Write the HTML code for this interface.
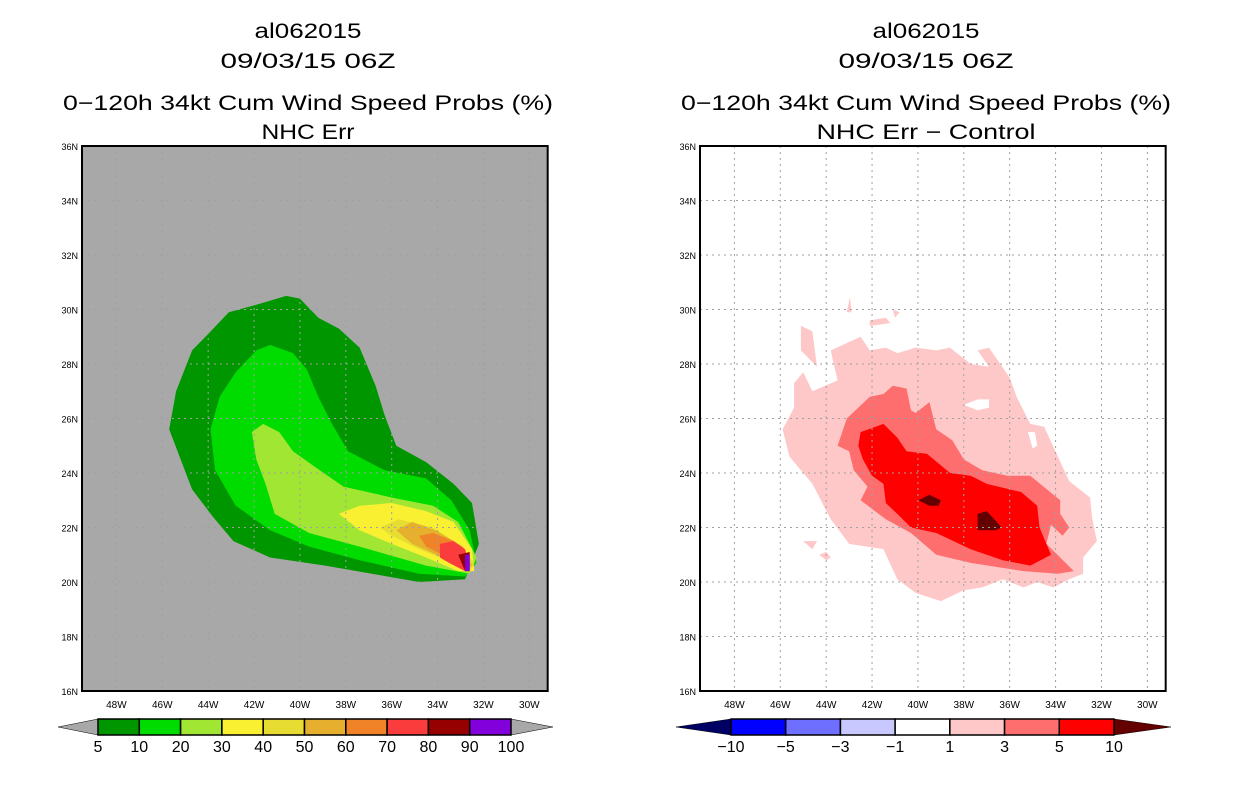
<!DOCTYPE html>
<html><head><meta charset="utf-8">
<style>
body{margin:0;background:#fff;}
svg{display:block;}
text{font-family:"Liberation Sans",sans-serif;}
</style></head>
<body>
<svg id="chart" width="1236" height="800" viewBox="0 0 1236 800"></svg>
<script>
// ---- data ----
const latTicks = [16,18,20,22,24,26,28,30,32,34,36];
const lonTicks = [48,46,44,42,40,38,36,34,32,30];
const leftLevels = ['5','10','20','30','40','50','60','70','80','90','100'];
const leftColors = ['#009600','#00dc00','#a0e632','#faf032','#e6dc32','#e6af2d','#f08228','#fa3c3c','#960000','#8200dc'];
const rightLevels = ['-10','-5','-3','-1','1','3','5','10'];
const rightColors = ['#000064','#0000ff','#6e6eff','#c8c8ff','#ffffff','#ffc8c8','#ff6e6e','#ff0000','#640000'];
// contours as [lonW, latN]
const left5 = [[40.6,30.5],[41.8,30.2],[43.1,29.9],[44.0,29.1],[44.7,28.5],[45.4,27.0],[45.7,25.6],[44.7,23.4],[43.8,22.4],[42.9,21.5],[41.3,20.9],[38.9,20.6],[34.8,20.0],[32.8,20.1],[32.2,21.4],[32.5,22.9],[33.3,23.6],[34.5,24.4],[35.8,25.0],[36.3,26.1],[36.7,27.2],[37.4,28.6],[38.3,29.3],[39.2,29.7],[40.0,30.4]];
const left10 = [[41.3,28.7],[40.3,28.4],[39.7,27.8],[39.2,26.8],[38.6,25.8],[37.9,24.8],[36.3,24.1],[34.5,23.8],[33.4,23.0],[32.6,21.9],[32.3,20.7],[32.8,20.2],[34.8,20.3],[37.4,20.8],[39.6,21.3],[41.3,21.9],[42.8,22.8],[43.7,24.1],[43.9,25.6],[43.5,26.8],[42.8,27.7],[41.9,28.5]];
const left20 = [[41.6,25.8],[40.9,25.5],[40.3,24.8],[39.3,24.2],[38.1,23.5],[36.0,23.1],[34.2,22.8],[33.1,22.2],[32.3,20.9],[32.6,20.3],[34.5,20.6],[37.4,21.3],[39.6,21.8],[41.1,22.5],[41.5,23.6],[41.9,24.5],[42.1,25.5]];
const left30 = [[38.3,22.5],[37.4,22.8],[36.0,22.9],[34.5,22.6],[33.3,22.2],[32.5,21.2],[32.4,20.4],[33.1,20.4],[34.5,20.9],[36.0,21.4],[37.4,21.9]];
const left40 = [[36.5,22.0],[35.7,22.3],[34.2,22.0],[33.1,21.4],[32.4,20.7],[32.6,20.4],[33.3,20.7],[34.8,21.2],[36.0,21.7]];
const left50 = [[35.8,21.9],[35.1,22.2],[34.1,21.9],[32.9,21.3],[32.5,20.6],[32.8,20.4],[33.8,20.9],[35.1,21.4]];
const left60 = [[34.8,21.7],[34.2,21.8],[33.3,21.5],[32.8,21.1],[32.6,20.5],[33.3,20.8],[34.5,21.3]];
const left70 = [[33.9,21.4],[33.3,21.5],[32.8,21.2],[32.6,20.6],[32.8,20.4],[33.5,20.7],[33.9,20.9]];
const left80 = [[33.1,21.0],[32.6,21.1],[32.6,20.4],[32.8,20.4],[33.0,20.8]];
const left90 = [[32.8,21.0],[32.6,21.0],[32.6,20.4],[32.8,20.4]];
const right1 = [[43.8,28.5],[42.5,29.0],[42.1,28.5],[41.4,28.6],[40.9,28.4],[40.1,28.6],[39.2,28.5],[38.6,28.6],[37.7,28.0],[36.9,27.9],[37.4,28.5],[36.9,28.6],[36.0,27.5],[35.7,26.8],[35.1,25.8],[34.5,25.7],[33.9,24.6],[33.4,23.7],[32.5,23.1],[32.4,22.3],[32.2,21.5],[32.8,20.9],[32.8,20.3],[33.4,20.1],[34.1,19.8],[34.8,20.0],[35.4,19.8],[36.3,20.1],[37.2,19.8],[38.0,19.7],[39.0,19.3],[40.1,19.6],[40.9,20.1],[41.5,21.2],[43.0,21.4],[43.8,22.3],[44.6,23.6],[45.6,24.6],[45.9,25.6],[45.4,26.4],[45.4,27.3],[45.0,27.7],[44.6,27.0],[43.5,27.4],[43.7,28.1]];
const right1Islands = [
 [[45.1,29.4],[44.6,29.2],[44.4,27.9],[45.1,28.5]],
 [[42.1,29.6],[41.4,29.7],[41.2,29.5],[42.1,29.4]],
 [[42.96,30.47],[42.9,29.9],[43.1,29.9]],
 [[41.1,30.0],[40.8,29.9],[41.0,29.7]],
 [[45.0,21.5],[44.4,21.5],[44.6,21.2]],
 [[44.3,21.0],[44.0,21.1],[43.8,20.9],[44.0,20.8]]
];
const right1Holes = [
 [[38.0,26.5],[37.4,26.7],[36.9,26.7],[36.9,26.4],[37.4,26.3]],
 [[35.2,25.5],[34.9,25.5],[34.8,25.0],[35.0,24.9]]
];
const right3 = [[43.5,25.0],[43.1,26.0],[42.1,26.8],[41.5,26.9],[41.1,27.2],[40.5,27.1],[40.3,26.3],[40.1,26.2],[39.5,26.6],[39.2,25.6],[38.5,25.2],[38.0,24.5],[37.2,24.1],[36.1,23.9],[35.1,23.9],[33.8,23.0],[33.8,22.5],[33.4,22.0],[33.7,21.7],[34.2,22.1],[34.4,21.4],[33.2,20.4],[33.9,20.3],[35.4,20.4],[37.7,20.7],[39.2,21.0],[40.3,21.8],[41.4,22.3],[42.5,23.0],[42.2,23.5],[42.8,24.1],[43.0,24.8]];
const right5 = [[42.5,25.5],[41.5,25.8],[40.9,25.3],[40.5,24.8],[39.6,24.7],[38.6,24.0],[37.7,23.9],[37.0,23.6],[35.5,23.3],[34.8,22.8],[34.7,22.0],[34.2,21.0],[35.1,20.6],[36.3,20.8],[37.7,21.2],[39.2,21.8],[40.3,22.0],[40.9,22.5],[41.4,22.9],[41.5,23.6],[42.0,23.9],[42.4,24.5],[42.6,25.0]];
const right10 = [
 [[39.98,23.0],[39.5,23.2],[39.0,23.0],[39.1,22.8],[39.5,22.8]],
 [[37.4,22.5],[37.0,22.6],[36.35,22.0],[36.6,21.9],[37.4,21.9]]
];

// ---- layout ----
const NS='http://www.w3.org/2000/svg';
const svg=document.getElementById('chart');
function mk(tag,attrs,parent){const e=document.createElementNS(NS,tag);for(const k in attrs)e.setAttribute(k,attrs[k]);(parent||svg).appendChild(e);return e;}
const PX=22.94, PY=27.25, TOP=146, BOT=691;
function xs(x0){return lon=>x0+(49.5-lon)*PX;}
function ys(lat){return TOP+(36-lat)*PY;}

function panel(x0,bg,name){
  const X=xs(x0), W=(49.5-29.2)*PX;
  const g=mk('g',{});
  
  
  const r=mk('rect',{x:x0,y:TOP,width:W,height:BOT-TOP,fill:bg},g);
  
  
  return {g,X,W,x0};
}
function poly(p,pts,fill,name){
  const e=mk('polygon',{points:pts.map(d=>p.X(d[0]).toFixed(1)+','+ys(d[1]).toFixed(1)).join(' '),fill:fill},p.g);
  
  
}
function frame(p){
  lonTicks.forEach(l=>{
    const x=p.X(l);
    const gl=mk('line',{x1:x,x2:x,y1:TOP,y2:BOT,stroke:'#a0a0a0','stroke-dasharray':'2,4','stroke-width':1},p.g);
    
    
    const t=mk('text',{x:x,y:BOT+17,'font-size':10,'text-anchor':'middle',fill:'#000'},p.g);
    t.textContent=l+'W';
    
    
  });
  latTicks.forEach(l=>{
    const y=ys(l);
    if(l>16&&l<36){
      const gl=mk('line',{x1:p.x0,x2:p.x0+p.W,y1:y,y2:y,stroke:'#a0a0a0','stroke-dasharray':'2,4','stroke-width':1},p.g);
      
      
    }
    const t=mk('text',{x:p.x0-4,y:y+4,'font-size':9,'text-anchor':'end',fill:'#000'},p.g);
    t.textContent=l+'N';
    
    
  });
  const f=mk('rect',{x:p.x0,y:TOP,width:p.W,height:BOT-TOP,fill:'none',stroke:'#000','stroke-width':2},p.g);
  
  
}
function titles(cx,lines,widths){
  const ypos=[38,68,110,139];
  lines.forEach((s,i)=>{
    const t=mk('text',{x:cx,y:ypos[i],'font-size':21,'text-anchor':'middle',fill:'#000',textLength:widths[i],lengthAdjust:'spacingAndGlyphs'});
    t.textContent=s;
    
    
  });
}
function colorbar(x0,x1,tipL,tipR,colors,labels,name){
  const g=mk('g',{});
  
  
  const yt=719,yb=735,ym=727;
  const n=labels.length-1;
  const w=(x1-x0)/n;
  const tl=mk('polygon',{points:`${tipL},${ym} ${x0},${yt} ${x0},${yb}`,fill:colors[0],stroke:'#000','stroke-width':0.5},g);
  
  
  const tr=mk('polygon',{points:`${tipR},${ym} ${x1},${yt} ${x1},${yb}`,fill:colors[colors.length-1],stroke:'#000','stroke-width':0.5},g);
  
  
  for(let i=0;i<n;i++){
    const b=mk('rect',{x:x0+i*w,y:yt,width:w,height:yb-yt,fill:colors[i+1],stroke:'#000','stroke-width':1.5},g);
    
    
  }
  labels.forEach((s,i)=>{
    const t=mk('text',{x:x0+i*w,y:yb+17,'font-size':16,'text-anchor':'middle',fill:'#000'},g);
    t.textContent=s.replace('-','\u2212');
    
    
  });
}

// left panel
const L=panel(82,'#a8a8a8','left-panel');
[left5,left10,left20,left30,left40,left50,left60,left70,left80,left90].forEach((c,i)=>poly(L,c,leftColors[i],'contour-'+leftLevels[i]));
frame(L);
titles(308,['al062015','09/03/15 06Z','0\u2212120h 34kt Cum Wind Speed Probs (%)','NHC Err'],[107,175,490,93]);
colorbar(98,511,58,553,['#a8a8a8'].concat(leftColors).concat(['#a8a8a8']),leftLevels,'left-colorbar');

// right panel
const R=panel(700,'#ffffff','right-panel');
poly(R,right1,rightColors[5],'contour-1');
right1Islands.forEach(c=>poly(R,c,rightColors[5],'contour-1-island'));
right1Holes.forEach(c=>poly(R,c,'#ffffff','contour-1-hole'));
poly(R,right3,rightColors[6],'contour-3');
poly(R,right5,rightColors[7],'contour-5');
right10.forEach(c=>poly(R,c,rightColors[8],'contour-10'));
frame(R);
titles(926,['al062015','09/03/15 06Z','0\u2212120h 34kt Cum Wind Speed Probs (%)','NHC Err \u2212 Control'],[107,175,490,219]);
colorbar(731,1114,676,1171,rightColors,rightLevels,'right-colorbar');
</script>
</body></html>
